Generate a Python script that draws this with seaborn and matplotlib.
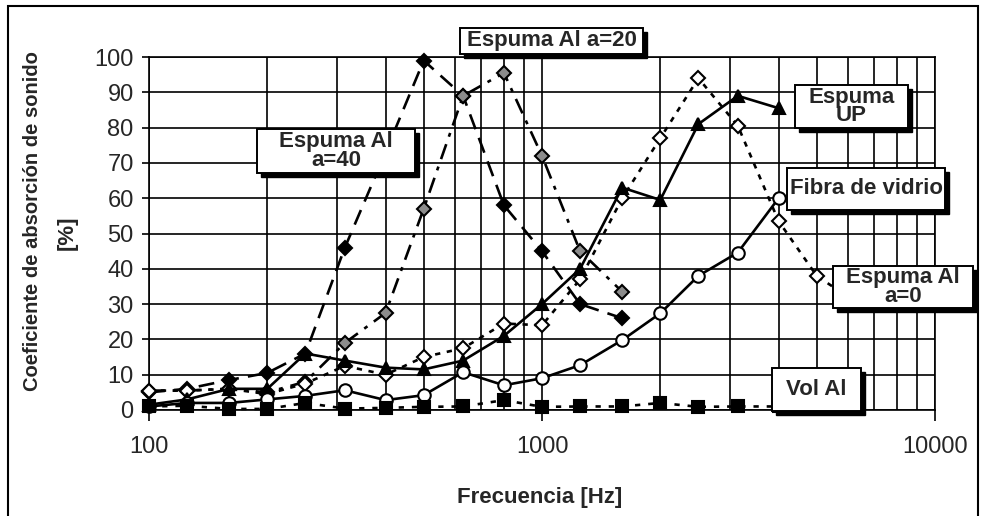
import matplotlib
matplotlib.use("Agg")
import matplotlib.pyplot as plt
import seaborn as sns
from matplotlib.patches import Rectangle
from matplotlib.ticker import FixedLocator, LogLocator, NullFormatter

# ---------------- data ----------------
freq = [100, 125, 160, 200, 250, 315, 400, 500, 630, 800, 1000, 1250, 1600,
        2000, 2500, 3150, 4000, 5000, 6300]

freq_a40 = freq[:13]
espuma_a40 = [5, 6, 8.5, 10.5, 16, 46, 73, 99, 89, 58, 45, 30, 26]

freq_a20 = freq[:13]
espuma_a20 = [5.5, 5.5, 6, 5, 8, 19, 27.5, 57, 89, 95.5, 72, 45, 33.5]

freq_a0 = freq[:19]
espuma_a0 = [5.5, 5.5, 6, 4.5, 7.5, 12.5, 10, 15, 17.5, 24.5, 24, 37, 60,
             77, 94, 80.5, 53.5, 38, 30.5]

freq_up = freq[:17]
espuma_up = [1.5, 3, 6, 6, 16, 14, 12, 11.5, 14, 21, 30, 40, 63, 59.5, 81, 89, 85.5]

freq_fibra = freq[:17]
fibra_vidrio = [1, 2, 2, 3, 4, 5.6, 2.8, 4.2, 10.7, 7, 9, 12.7, 19.8, 27.4, 38, 44.6, 60]

freq_vol = freq[:17]
vol_al = [1, 1.2, 0.3, 0.3, 2, 0.4, 0.6, 0.9, 1, 2.8, 0.9, 1, 1, 2, 0.9, 1, 1]

x_ticks = [100, 1000, 10000]
x_tick_labels = ["100", "1000", "10000"]
y_ticks = list(range(0, 101, 10))

label_a20 = "Espuma Al a=20"
label_a40 = "Espuma Al\na=40"
label_up = "Espuma\nUP"
label_fibra = "Fibra de vidrio"
label_a0 = "Espuma Al\na=0"
label_vol = "Vol Al"
x_label = "Frecuencia [Hz]"
y_label_1 = "Coeficiente de absorción de sonido"
y_label_2 = "[%]"

# ---------------- figure ----------------
W, H = 982, 516
sns.set_theme(style="white")
plt.rcParams["font.family"] = ["Liberation Sans", "DejaVu Sans"]

fig = plt.figure(figsize=(W / 100, H / 100), dpi=100)
ax = fig.add_axes([149 / W, 1 - 410 / H, (935 - 149) / W, (410 - 57) / H])
ax.set_xscale("log")
ax.set_xlim(100, 10000)
ax.set_ylim(0, 100)

common = dict(ax=ax, color="black", lw=1.9, markeredgecolor="black",
              markeredgewidth=1.5, clip_on=False, estimator=None, sort=False,
              legend=False)

sns.lineplot(x=freq_a40, y=espuma_a40, linestyle=(0, (6, 3.5)), marker="D",
             markersize=7, markerfacecolor="black", zorder=5, **common)
sns.lineplot(x=freq_a20, y=espuma_a20, linestyle=(0, (6, 3, 1.5, 3)), marker="D",
             markersize=7, markerfacecolor="#8c8c8c", zorder=5, **common)
sns.lineplot(x=freq_a0, y=espuma_a0, linestyle=(0, (2, 2.5)), marker="D",
             markersize=7, markerfacecolor="white", zorder=5, **common)
sns.lineplot(x=freq_up, y=espuma_up, linestyle="-", marker="^",
             markersize=8.5, markerfacecolor="black", zorder=5, **common)
sns.lineplot(x=freq_fibra, y=fibra_vidrio, linestyle="-", marker="o",
             markersize=9, markerfacecolor="white", zorder=5, **common)
sns.lineplot(x=freq_vol, y=vol_al, linestyle=(0, (2, 3)), marker="s",
             markersize=8.5, markerfacecolor="black", zorder=5, **common)

# axes styling
ax.xaxis.set_major_locator(FixedLocator(x_ticks))
ax.set_xticklabels(x_tick_labels)
ax.xaxis.set_minor_locator(LogLocator(base=10, subs=range(2, 10)))
ax.xaxis.set_minor_formatter(NullFormatter())
ax.set_yticks(y_ticks)
ax.set_yticklabels([str(v) for v in y_ticks])
ax.grid(True, which="both", axis="x", color="black", lw=1.2)
ax.grid(True, which="major", axis="y", color="black", lw=1.2)
ax.set_axisbelow(True)
for s in ax.spines.values():
    s.set_color("black")
    s.set_linewidth(1.2)
ax.tick_params(axis="x", which="major", length=8, width=1.2, pad=11,
               labelsize=17, color="black", bottom=True)
ax.tick_params(axis="x", which="minor", length=0)
ax.tick_params(axis="y", which="major", length=5, width=1.2, pad=6,
               labelsize=17, color="black", left=True)
ax.set_xlabel("")
ax.set_ylabel("")

# axis titles
fig.text(540 / W, 1 - 497 / H, x_label, ha="center", va="center",
         fontsize=16, fontweight="bold")
fig.text(33 / W, 1 - 221 / H, y_label_1, ha="center", va="center",
         rotation=90, fontsize=14.5, fontweight="bold")
fig.text(67 / W, 1 - 233 / H, y_label_2, ha="center", va="center",
         rotation=90, fontsize=16, fontweight="bold")


def label_box(x0, y0, x1, y1, text, fs=16, ls=0.85):
    X0, X1 = x0 / W, x1 / W
    Yb, Yt = 1 - y1 / H, 1 - y0 / H
    fig.add_artist(Rectangle((X0 + 4 / W, Yb - 4 / H), X1 - X0, Yt - Yb,
                             transform=fig.transFigure, fc="black", ec="black",
                             lw=1, zorder=10))
    fig.add_artist(Rectangle((X0, Yb), X1 - X0, Yt - Yb,
                             transform=fig.transFigure, fc="white", ec="black",
                             lw=1.4, zorder=11))
    fig.text((X0 + X1) / 2, (Yb + Yt) / 2, text, ha="center", va="center",
             fontsize=fs, fontweight="bold", linespacing=ls, zorder=12)


label_box(460, 28, 643, 54, label_a20)
label_box(257, 129, 415, 173, label_a40)
label_box(795, 85, 908, 128, label_up)
label_box(787, 168, 945, 210, label_fibra)
label_box(833, 266, 973, 308, label_a0)
label_box(772, 368, 861, 411, label_vol)

# outer frame
fig.add_artist(Rectangle((8 / W, -0.02), (978 - 8) / W, (H - 6) / H + 0.02,
                         transform=fig.transFigure, fill=False, ec="black",
                         lw=1.5, zorder=20))

fig.savefig("out.png", dpi=100)
